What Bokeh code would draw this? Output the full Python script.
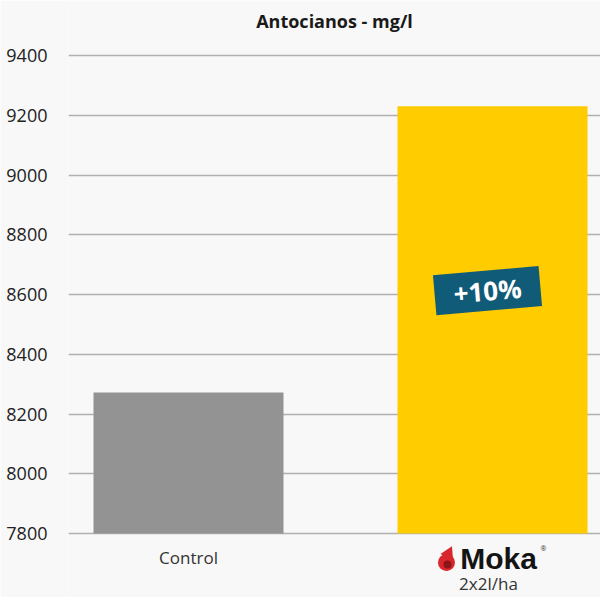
from bokeh.plotting import figure
from bokeh.models import ColumnDataSource, FixedTicker, Range1d
from bokeh.core.properties import value
from bokeh.embed import file_html
from bokeh.resources import INLINE
import math

# ---- data ----
categories = ["Control", "Moka"]
values = [8272, 9230]
bar_colors = ["#939393", "#ffcc00"]
y_ticks = [7800, 8000, 8200, 8400, 8600, 8800, 9000, 9200, 9400]
title_text = "Antocianos - mg/l"
badge_text = "+10%"
dose_text = "2x2l/ha"

BG = "#f8f8f8"
FONT = value("Open Sans")

W, H = 600, 597
LEFT = 68
x0, x1 = -0.3947, 1.3553
y0, y1 = 7585.8, 9584.1
frame_w, frame_h = W - LEFT, H
def dx(px):  # screen px -> data x
    return px * (x1 - x0) / frame_w
def dy(px):
    return px * (y1 - y0) / frame_h

p = figure(width=W, height=H, output_backend="svg", toolbar_location=None,
           x_range=Range1d(x0, x1), y_range=Range1d(y0, y1),
           min_border_left=LEFT, min_border_right=0, min_border_top=0, min_border_bottom=0,
           background_fill_color=BG, border_fill_color=BG)
p.outline_line_color = None
p.xaxis.visible = False
p.xgrid.visible = False

p.yaxis.ticker = FixedTicker(ticks=y_ticks)
p.yaxis.axis_line_color = None
p.yaxis.major_tick_line_color = None
p.yaxis.minor_tick_line_color = None
p.yaxis.major_label_standoff = 15
p.yaxis.major_label_text_font = "Open Sans"
p.yaxis.major_label_text_font_size = "18px"
p.yaxis.major_label_text_color = "#222222"
p.ygrid.grid_line_color = "#b0b0b0"
p.ygrid.grid_line_width = 1.5

xs = list(range(len(categories)))
src = ColumnDataSource(dict(x=xs, top=values, color=bar_colors))
p.vbar(x="x", top="top", bottom=y_ticks[0], width=0.625, fill_color="color",
       line_color=None, source=src)

# title
p.text(x=[(x0 + x1) / 2], y=[y1], text=[title_text], y_offset=20,
       text_align="center", text_baseline="middle", text_font=FONT,
       text_font_style="bold", text_font_size="18px", text_color="#1a1a1a")

# category label Control
p.text(x=[xs[0]], y=[y_ticks[0]], text=[categories[0]], y_offset=24,
       text_align="center", text_baseline="middle", text_font=FONT,
       text_font_size="17px", text_color="#333333")

# Moka logo
p.text(x=[xs[1]], y=[y_ticks[0]], text=[categories[1]], x_offset=6, y_offset=25,
       text_align="center", text_baseline="middle", text_font=value("Liberation Sans"),
       text_font_style="bold", text_font_size="30px", text_color="#141414")
p.text(x=[xs[1]], y=[y_ticks[0]], text=["\u00ae"], x_offset=51, y_offset=15,
       text_align="center", text_baseline="middle", text_font=FONT,
       text_font_size="7px", text_color="#333333")
# drop
p.scatter(x=[xs[1] - dx(46)], y=[y_ticks[0] - dy(29)], marker="circle", size=17,
          fill_color="#d8262c", line_color=None)
p.scatter(x=[xs[1] - dx(44)], y=[y_ticks[0] - dy(20)], marker="triangle", size=14,
          angle=-0.45, fill_color="#d8262c", line_color=None)
p.scatter(x=[xs[1] - dx(45)], y=[y_ticks[0] - dy(31)], marker="circle", size=8,
          fill_color="#8a1418", line_color=None)
p.text(x=[xs[1]], y=[y_ticks[0]], text=[dose_text], x_offset=-4, y_offset=50,
       text_align="center", text_baseline="middle", text_font=FONT,
       text_font_size="17px", text_color="#333333")

# badge
bx = xs[1] + dx(-5)
by = 8613
p.rect(x=[bx], y=[by], width=106, height=40, width_units="screen", height_units="screen",
       angle=math.radians(5), fill_color="#0f5b78", line_color=None)
p.text(x=[bx], y=[by], text=[badge_text], angle=math.radians(5),
       text_align="center", text_baseline="middle", text_font=FONT,
       text_font_style="bold", text_font_size="26px", text_color="#ffffff")

open("out.html", "w").write(file_html(p, INLINE))
